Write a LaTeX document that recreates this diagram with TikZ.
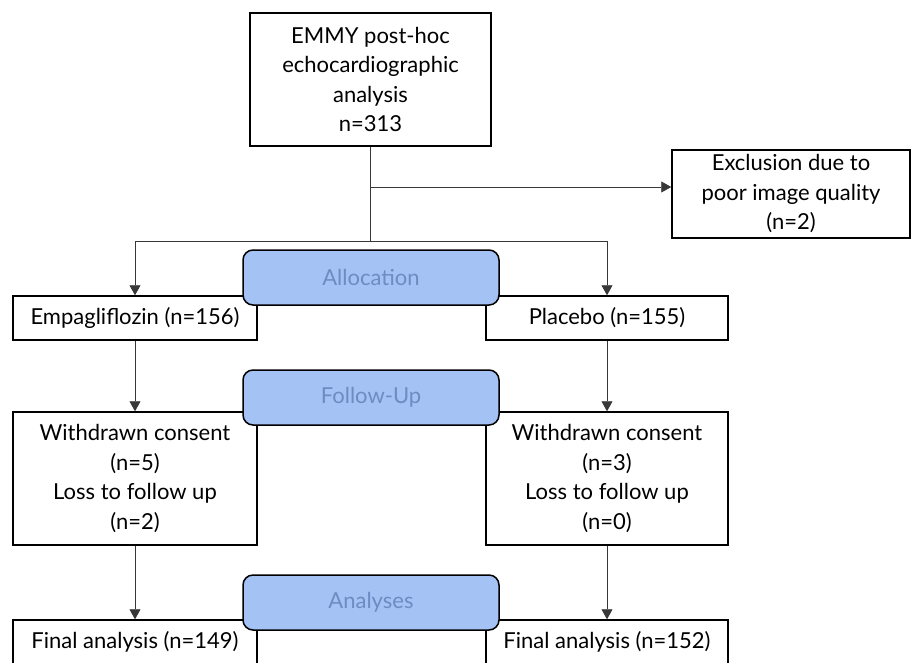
\documentclass[tikz,border=0pt]{standalone}
\usepackage{fontspec}
\setmainfont{Lato}
\usetikzlibrary{arrows.meta,positioning}
\definecolor{phase}{HTML}{A4C2F4}
\definecolor{phasetext}{HTML}{6F8CC2}
\definecolor{wire}{HTML}{383838}
\begin{document}
\begin{tikzpicture}[x=1pt,y=-1pt,
  box/.style={draw,line width=1.5pt,fill=white,align=center,inner sep=0pt,font=\fontsize{22}{29.5}\selectfont},
  phasebox/.style={draw,line width=1.5pt,fill=phase,rounded corners=10pt,minimum width=256pt,minimum height=55pt,text=phasetext,font=\fontsize{22}{26}\selectfont},
  arr/.style={wire,line width=0.8pt,-{Triangle[length=10pt,width=11pt]}}]
\useasboundingbox (0,0) rectangle (912,662);
% boxes
\node[box,minimum width=241pt,minimum height=133pt] (screen) at (370.5,79.5) {EMMY post-hoc\\echocardiographic\\analysis\\n=313};
\node[box,minimum width=238pt,minimum height=88pt] (excl) at (791,194) {Exclusion due to\\poor image quality\\(n=2)};
\node[box,minimum width=244pt,minimum height=44pt] (empa) at (135,318) {Empagliflozin (n=156)};
\node[box,minimum width=242pt,minimum height=44pt] (plac) at (607,318) {Placebo (n=155)};
\node[box,minimum width=244pt,minimum height=133pt] (empalost) at (135,478.5) {Withdrawn consent\\(n=5)\\Loss to follow up\\(n=2)};
\node[box,minimum width=242pt,minimum height=133pt] (placlost) at (607,478.5) {Withdrawn consent\\(n=3)\\Loss to follow up\\(n=0)};
\node[box,minimum width=244pt,minimum height=44pt] (empafin) at (135,642) {Final analysis (n=149)};
\node[box,minimum width=242pt,minimum height=44pt] (placfin) at (607,642) {Final analysis (n=152)};
% connectors
\coordinate (excljoin) at (370,187);
\coordinate (split) at (370,241);
\draw[wire,line width=0.8pt] (screen.south -| split) -- (split);
\draw[arr] (excljoin) -- (excljoin -| excl.west);
\draw[arr] (split) -| (empa.north);
\draw[arr] (split) -| (plac.north);
\draw[arr] (empa) -- (empalost);
\draw[arr] (plac) -- (placlost);
\draw[arr] (empalost) -- (empafin);
\draw[arr] (placlost) -- (placfin);
% phase labels
\node[phasebox] (alloc) at (371,277.5) {Allocation};
\node[phasebox] (follow) at (371,397.5) {Follow-Up};
\node[phasebox] (analyses) at (371,602.5) {Analyses};
\end{tikzpicture}
\end{document}
